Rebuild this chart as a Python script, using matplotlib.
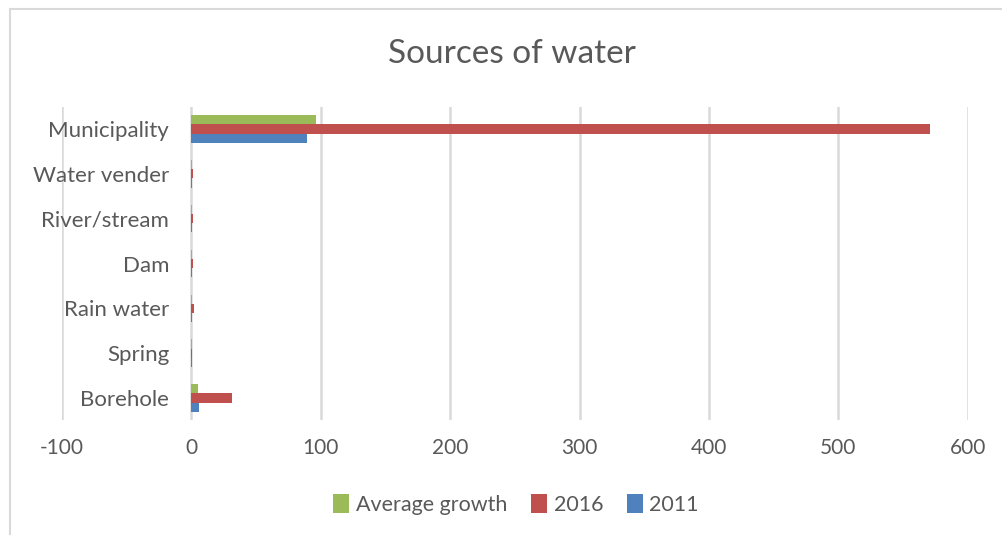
import matplotlib.pyplot as plt
import numpy as np
from matplotlib.patches import Rectangle

plt.rcParams['font.family'] = ['Lato', 'DejaVu Sans']

sources = ['Borehole', 'Spring', 'Rain water', 'Dam', 'River/stream', 'Water vender', 'Municipality']
y2011 = [6, 0.3, 0.6, 0.3, 0.3, 0.5, 89]
y2016 = [31, 0.6, 2, 1.5, 1.5, 1, 571]
avg_growth = [4.7, 0.2, 0.2, 0.2, 0.2, 0.2, 96]
ticks = [-100, 0, 100, 200, 300, 400, 500, 600]

text_col = '#595959'
grid_col = '#D9D9D9'

fig = plt.figure(figsize=(10.02, 5.35), dpi=100)
ax = fig.add_axes([0.0619, 0.2142, 0.904, 0.5865])

# chart frame
fig.patches.append(Rectangle((10 / 1002, -0.1), 1.2, 1 - 9 / 535 + 0.1,
                             transform=fig.transFigure, fill=False,
                             edgecolor=grid_col, linewidth=1.5))

pos = np.arange(len(sources))
h = 0.205
ax.barh(pos - h, y2011, height=h, color='#4F81BD', label='2011')
ax.barh(pos, y2016, height=h, color='#C0504D', label='2016')
ax.barh(pos + h, avg_growth, height=h, color='#9BBB59', label='Average growth')

ax.set_xlim(-100, 600)
ax.set_ylim(-0.5, len(sources) - 0.5)
ax.set_xticks(ticks)
ax.set_xticklabels([str(t) for t in ticks])
ax.set_yticks(pos)
ax.set_yticklabels(sources)
# category labels sit next to the zero line
ax.spines['left'].set_position(('data', 0))
ax.tick_params(axis='both', length=0, labelsize=15, labelcolor=text_col)
ax.tick_params(axis='x', pad=13)
ax.tick_params(axis='y', pad=16, labelsize=16)
ax.xaxis.grid(True, color=grid_col, linewidth=1.8)
ax.set_axisbelow(True)
for s in ax.spines.values():
    s.set_visible(False)

fig.text(0.511, 0.899, 'Sources of water', ha='center', va='center',
         fontsize=24, color=text_col)

handles, labels = ax.get_legend_handles_labels()
ax.legend(handles[::-1], labels[::-1], loc='center', bbox_to_anchor=(0.515, 0.057),
          bbox_transform=fig.transFigure, ncol=3, frameon=False, fontsize=15.5,
          labelcolor=text_col, handlelength=0.75, handleheight=0.95,
          handletextpad=0.3, columnspacing=1.1)

fig.savefig('out.png', dpi=100)
